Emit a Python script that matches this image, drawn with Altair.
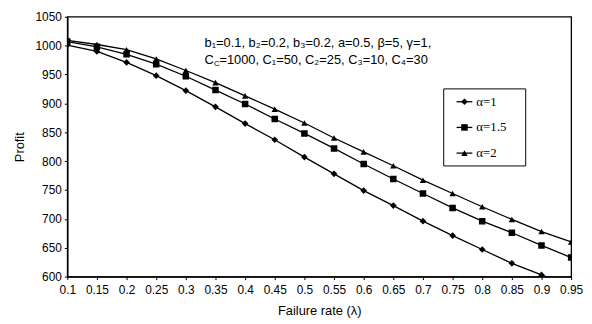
import altair as alt
import pandas as pd

rates = [0.1, 0.15, 0.2, 0.25, 0.3, 0.35, 0.4, 0.45, 0.5, 0.55, 0.6, 0.65, 0.7, 0.75, 0.8, 0.85, 0.9, 0.95]
series = ["α=1", "α=1.5", "α=2"]
profit_a1 = [1001, 990, 971, 948, 922, 894, 865, 837, 807, 778, 749, 723, 696, 671, 647, 623, 603, 583]
profit_a15 = [1007, 998, 985, 968, 947, 923, 899, 873, 848, 822, 795, 769, 744, 719, 696, 676, 654, 633]
profit_a2 = [1009, 1002, 993, 977, 957, 936, 913, 890, 866, 840, 816, 792, 767, 744, 721, 699, 678, 660]
y_ticks = [600, 650, 700, 750, 800, 850, 900, 950, 1000, 1050]
line1 = "b₁=0.1, b₂=0.2, b₃=0.2, a=0.5, β=5, γ=1,"
line2_parts = ["C", "C", "=1000, C₁=50, C₂=25, C₃=10, C₄=30"]

rows = []
for name, vals in zip(series, [profit_a1, profit_a15, profit_a2]):
    for r, v in zip(rates, vals):
        rows.append({"rate": r, "profit": v, "series": name})
df = pd.DataFrame(rows)

FONT = "Liberation Sans"
W, H = 510, 263

x = alt.X("rate:Q", scale=alt.Scale(domain=[0.1, 0.95], nice=False, zero=False),
          axis=alt.Axis(values=rates, format="~g", title="Failure rate (λ)", grid=False,
                        labelFont=FONT, labelFontSize=12, labelColor="black", labelPadding=5,
                        titleFont=FONT, titleFontSize=13, titleFontWeight="normal", titleColor="black",
                        titlePadding=9, tickSize=3, tickColor="black", domainColor="black",
                        domainWidth=1.5, labelFlush=False))
y = alt.Y("profit:Q", scale=alt.Scale(domain=[600, 1050], nice=False, zero=False),
          axis=alt.Axis(values=y_ticks, format="d", title="Profit", grid=False,
                        labelFont=FONT, labelFontSize=12, labelColor="black", labelPadding=3,
                        titleFont=FONT, titleFontSize=13, titleFontWeight="normal", titleColor="black",
                        titlePadding=9, tickSize=3, tickColor="black", domainColor="black",
                        domainWidth=1.5))
shape = alt.Shape("series:N", scale=alt.Scale(domain=series, range=["diamond", "square", "triangle-up"]),
                  legend=None)
size = alt.Size("series:N", scale=alt.Scale(domain=series, range=[45, 42, 55]), legend=None)

lines = alt.Chart(df).mark_line(color="black", strokeWidth=1.3, clip=True).encode(
    x=x, y=y, detail="series:N")
points = alt.Chart(df).mark_point(filled=True, color="black", opacity=1, clip=True).encode(
    x=x, y=y, shape=shape, size=size)

ann1 = alt.Chart().mark_text(align="left", baseline="middle", font=FONT, fontSize=13, color="black").encode(
    x=alt.value(139), y=alt.value(27), text=alt.value(line1))
ann2a = alt.Chart().mark_text(align="left", baseline="middle", font=FONT, fontSize=13, color="black").encode(
    x=alt.value(139), y=alt.value(44), text=alt.value(line2_parts[0]))
ann2b = alt.Chart().mark_text(align="left", baseline="middle", font=FONT, fontSize=8, color="black").encode(
    x=alt.value(148.5), y=alt.value(48), text=alt.value(line2_parts[1]))
ann2c = alt.Chart().mark_text(align="left", baseline="middle", font=FONT, fontSize=13, color="black").encode(
    x=alt.value(154), y=alt.value(44), text=alt.value(line2_parts[2]))

# legend box
leg_df = pd.DataFrame({"series": series, "ly": [86, 112, 138]})
box = alt.Chart().mark_rect(fill="white", stroke="black", strokeWidth=1).encode(
    x=alt.value(381), x2=alt.value(464), y=alt.value(73), y2=alt.value(151))
leg_lines = alt.Chart(leg_df).mark_rule(color="black", strokeWidth=1.3).encode(
    x=alt.value(394), x2=alt.value(410), y=alt.Y("ly:Q", scale=None))
leg_pts = alt.Chart(leg_df).mark_point(filled=True, color="black", opacity=1).encode(
    x=alt.value(402), y=alt.Y("ly:Q", scale=None), shape=shape, size=size)
leg_text = alt.Chart(leg_df).mark_text(align="left", baseline="middle", font="Liberation Serif",
                                       fontSize=13, color="black").encode(
    x=alt.value(414), y=alt.Y("ly:Q", scale=None), text="series:N")

chart = alt.layer(lines, points, ann1, ann2a, ann2b, ann2c, box, leg_lines, leg_pts, leg_text).properties(
    width=W, height=H,
    autosize=alt.AutoSizeParams(type="none"),
    padding={"left": 60, "top": 7, "right": 13, "bottom": 40},
    background="white",
).configure_view(stroke="black", strokeWidth=1.3)

chart.save("out.html", embed_options={"renderer": "svg", "actions": False})
